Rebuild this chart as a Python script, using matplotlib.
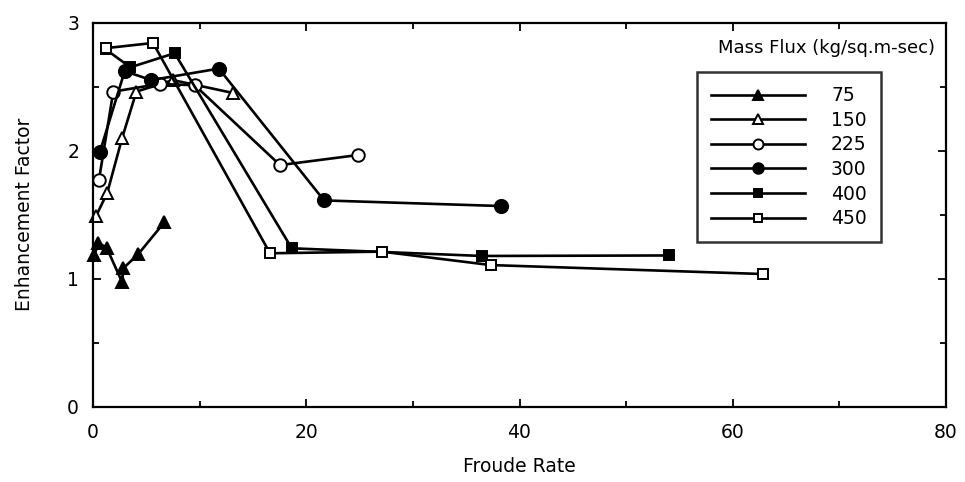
import matplotlib
matplotlib.use("Agg")
import matplotlib.pyplot as plt
from matplotlib.ticker import MultipleLocator

plt.rcParams['font.family'] = ['DejaVu Sans']

# Data (Froude rate, enhancement factor) per mass flux
labels = ["75", "150", "225", "300", "400", "450"]
x75 = [0.12, 0.5, 1.28, 2.74, 2.84, 4.24, 6.7]
y75 = [1.18, 1.28, 1.24, 0.97, 1.08, 1.19, 1.44]
x150 = [0.3, 1.34, 2.74, 4.07, 7.5, 13.1]
y150 = [1.49, 1.67, 2.10, 2.46, 2.55, 2.45]
x225 = [0.56, 1.9, 6.25, 9.54, 17.54, 24.9]
y225 = [1.77, 2.46, 2.52, 2.51, 1.886, 1.965]
x300 = [0.65, 2.97, 5.47, 11.8, 21.67, 38.3]
y300 = [1.99, 2.62, 2.55, 2.64, 1.61, 1.566]
x400 = [1.2, 3.5, 7.66, 18.64, 36.46, 54.06]
y400 = [2.79, 2.65, 2.76, 1.236, 1.176, 1.18]
x450 = [1.25, 5.63, 16.6, 27.08, 37.3, 62.8]
y450 = [2.80, 2.84, 1.197, 1.21, 1.105, 1.035]

xticks = [0, 20, 40, 60, 80]
yticks = [0, 1, 2, 3]

W, H = 965, 482
fig = plt.figure(figsize=(W / 100, H / 100), dpi=100)
ax = fig.add_axes([93 / W, 1 - 406.5 / H, (946 - 93) / W, (406.5 - 22.5) / H])

series = [
    (x75, y75, '^', 'black', 9),
    (x150, y150, '^', 'white', 9),
    (x225, y225, 'o', 'white', 9),
    (x300, y300, 'o', 'black', 9.5),
    (x400, y400, 's', 'black', 7),
    (x450, y450, 's', 'white', 7),
]
handles = []
for (xs, ys, m, fc, ms), lab in zip(series, labels):
    h, = ax.plot(xs, ys, color='black', lw=1.9, marker=m, ms=ms,
                 mfc=fc, mec='black', mew=1.4, label=lab, clip_on=False)
    handles.append(h)

ax.set_xlim(0, 80)
ax.set_ylim(0, 3)
ax.set_xticks(xticks)
ax.set_yticks(yticks)
ax.xaxis.set_minor_locator(MultipleLocator(10))
ax.yaxis.set_minor_locator(MultipleLocator(0.5))
ax.tick_params(which='both', direction='in', top=True, right=True, width=1.3,
               labelsize=13.5, colors='black')
ax.tick_params(which='major', length=5.5)
ax.tick_params(which='minor', length=4)
ax.tick_params(axis='x', which='major', pad=12)
ax.tick_params(axis='y', which='major', pad=10)
for s in ax.spines.values():
    s.set_linewidth(1.6)

ax.set_xlabel("Froude Rate", fontsize=13.5, labelpad=11)
ax.set_ylabel("Enhancement Factor", fontsize=13.5, labelpad=24)

fig.text(826 / W, 1 - 48 / H, "Mass Flux (kg/sq.m-sec)", ha='center', va='center',
         fontsize=13)

leg = ax.legend(handles=handles, loc='upper left',
                bbox_to_anchor=(697 / W, 1 - 72 / H), bbox_transform=fig.transFigure,
                borderaxespad=0, fontsize=13.5, handlelength=5.0, handletextpad=1.4,
                labelspacing=0.3, borderpad=0.75, fancybox=False, frameon=True,
                markerscale=0.8)
leg.get_frame().set_edgecolor('black')
leg.get_frame().set_linewidth(1.8)

fig.savefig("out.png", dpi=100)
